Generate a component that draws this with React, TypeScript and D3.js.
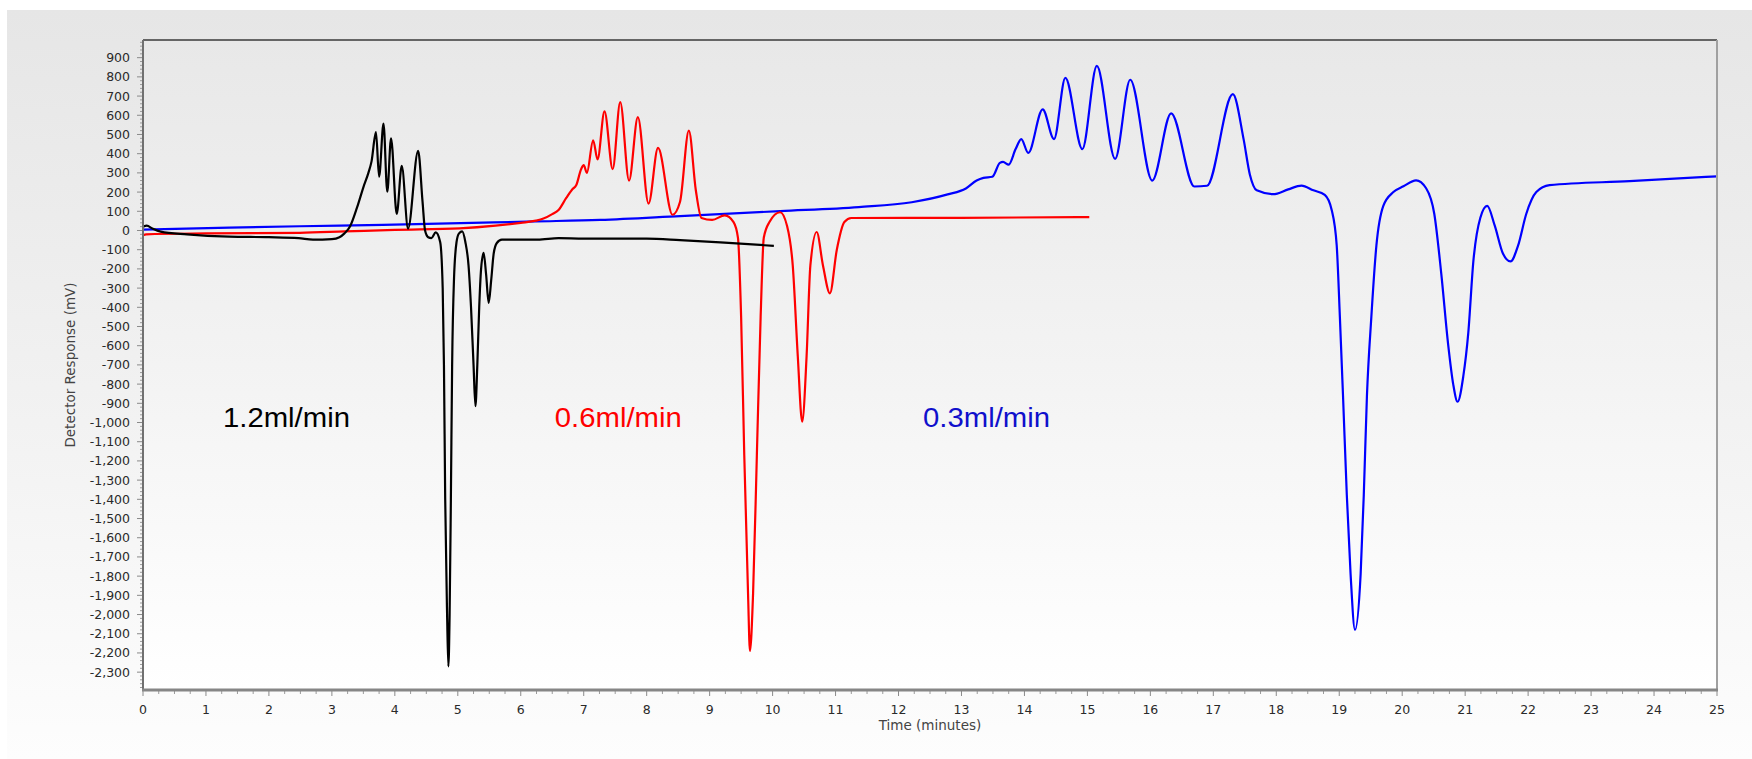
import React from "react";
import * as d3 from "d3";

// Chromatogram traces: detector response (mV) against time (minutes) at three flow rates.
const blackTime = [0, 0.06, 0.15, 0.28, 0.7, 1.37, 2.0, 2.47, 2.7, 3.0, 3.12, 3.2, 3.29, 3.4, 3.5, 3.58, 3.63, 3.7, 3.75, 3.82, 3.88, 3.94, 4.03, 4.11, 4.21, 4.37, 4.44, 4.48, 4.53, 4.58, 4.65, 4.72, 4.76, 4.78, 4.8, 4.83, 4.85, 4.87, 4.89, 4.91, 4.94, 4.98, 5.02, 5.07, 5.12, 5.17, 5.21, 5.25, 5.28, 5.31, 5.34, 5.37, 5.41, 5.45, 5.49, 5.53, 5.57, 5.62, 5.7, 6.27, 6.6, 7.0, 8.0, 8.53, 9.3, 10.02];
const blackResp = [20, 25, 10, -6, -20, -32, -35, -40, -48, -45, -35, -15, 22, 120, 225, 300, 360, 512, 280, 556, 202, 480, 86, 336, 10, 415, 150, 0, -35, -40, -10, -60, -300, -700, -1400, -2000, -2270, -2000, -1400, -700, -250, -60, -15, -5, -60, -180, -400, -700, -915, -700, -400, -200, -117, -230, -377, -260, -120, -65, -48, -48, -40, -42, -42, -50, -65, -80];

const redTime = [0, 0.05, 1.0, 2.49, 3.2, 4.0, 5.03, 5.6, 6.0, 6.24, 6.36, 6.5, 6.6, 6.72, 6.82, 6.88, 6.96, 7.0, 7.05, 7.15, 7.22, 7.33, 7.46, 7.58, 7.72, 7.86, 8.03, 8.18, 8.41, 8.53, 8.67, 8.78, 8.87, 9.04, 9.24, 9.38, 9.45, 9.5, 9.55, 9.61, 9.64, 9.69, 9.75, 9.81, 9.86, 9.95, 10.12, 10.23, 10.32, 10.4, 10.47, 10.54, 10.6, 10.7, 10.8, 10.91, 11.02, 11.14, 11.25, 13.0, 15.03];
const redResp = [-25, -20, -15, -12, -5, 3, 11, 25, 40, 51, 62, 85, 107, 168, 215, 235, 320, 340, 300, 470, 370, 620, 320, 668, 260, 590, 140, 430, 82, 150, 520, 211, 65, 55, 79, 44, -38, -450, -1170, -1891, -2190, -1891, -1170, -450, -38, 44, 95, 23, -182, -654, -996, -654, -182, -8, -182, -327, -100, 44, 65, 66, 70];

const blueTime = [0, 1.37, 2.49, 3.81, 6.24, 7.26, 8.53, 10.12, 11.37, 12.21, 12.78, 13.07, 13.24, 13.35, 13.49, 13.61, 13.66, 13.75, 13.86, 13.95, 14.06, 14.29, 14.47, 14.65, 14.92, 15.15, 15.44, 15.68, 16.03, 16.33, 16.7, 16.9, 17.31, 17.48, 17.58, 17.69, 17.95, 18.19, 18.4, 18.59, 18.77, 18.88, 18.96, 19.01, 19.06, 19.12, 19.18, 19.25, 19.34, 19.39, 19.44, 19.51, 19.59, 19.7, 19.86, 20.02, 20.22, 20.38, 20.51, 20.62, 20.73, 20.81, 20.88, 20.97, 21.05, 21.13, 21.24, 21.35, 21.47, 21.6, 21.72, 21.84, 21.97, 22.13, 22.34, 23.61, 25.0];
const blueResp = [5, 15, 22, 29, 47, 55, 75, 101, 122, 147, 188, 219, 260, 274, 280, 352, 357, 343, 424, 476, 404, 631, 476, 795, 424, 857, 373, 785, 260, 610, 229, 233, 710, 477, 292, 209, 189, 214, 234, 209, 185, 107, -79, -450, -861, -1376, -1788, -2080, -1788, -1376, -861, -450, -79, 128, 200, 230, 261, 220, 86, -223, -594, -800, -892, -760, -532, -161, 65, 128, 25, -120, -161, -79, 86, 200, 236, 257, 282];

const seriesColors = ["#0000ff", "#ff0000", "#000000"];

// Flow-rate annotations, anchored in data units
const flowLabels = ["1.2ml/min", "0.6ml/min", "0.3ml/min"];
const flowLabelTime = [1.27, 6.54, 12.39];
const flowLabelResp = [-1025, -1025, -1025];
const flowLabelColors = ["#000000", "#ff0000", "#1010cc"];

const yTickValues = d3.range(-2300, 901, 100);
const xTickValues = d3.range(0, 26, 1);

const W = 1752;
const H = 759;
const plot = { left: 143, top: 40, right: 1717, bottom: 690 };

const fmt = d3.formatLocale({
  decimal: ".",
  thousands: ",",
  grouping: [3],
  currency: ["", ""],
  minus: "-",
}).format(",");

const tickFont = "'DejaVu Sans', Verdana, sans-serif";

export default function App() {
  const x = d3.scaleLinear().domain([0, 25]).range([plot.left, plot.right]);
  const y = d3.scaleLinear().domain([-2393, 992]).range([plot.bottom, plot.top]);

  const line = d3
    .line<[number, number]>()
    .x((d) => x(d[0]))
    .y((d) => y(d[1]))
    .curve(d3.curveMonotoneX);

  const series = [
    d3.zip(blueTime, blueResp) as [number, number][],
    d3.zip(redTime, redResp) as [number, number][],
    d3.zip(blackTime, blackResp) as [number, number][],
  ];

  const yMinor = d3.range(-2380, 981, 20).filter((v) => v % 100 !== 0);
  const xMinor = d3.range(0, 101).filter((i) => i % 4 !== 0).map((i) => i / 4);

  return (
    <svg
      width={W}
      height={H}
      style={{ position: "absolute", left: 0, top: 0, display: "block" }}
    >
      <defs>
        <linearGradient id="panelBg" x1="0" y1="0" x2="0" y2="1">
          <stop offset="0" stopColor="#e6e6e6" />
          <stop offset="0.55" stopColor="#f2f2f2" />
          <stop offset="1" stopColor="#fdfdfd" />
        </linearGradient>
        <linearGradient id="plotBg" x1="0" y1="0" x2="0" y2="1">
          <stop offset="0" stopColor="#e8e8e8" />
          <stop offset="0.5" stopColor="#f3f3f3" />
          <stop offset="1" stopColor="#ffffff" />
        </linearGradient>
        <clipPath id="plotClip">
          <rect
            x={plot.left}
            y={plot.top}
            width={plot.right - plot.left}
            height={plot.bottom - plot.top}
          />
        </clipPath>
      </defs>

      <rect x={0} y={0} width={W} height={H} fill="#ffffff" />
      <rect x={7} y={10} width={W - 7} height={H - 10} fill="url(#panelBg)" />
      <rect
        x={plot.left}
        y={plot.top}
        width={plot.right - plot.left}
        height={plot.bottom - plot.top}
        fill="url(#plotBg)"
      />

      {/* traces */}
      <g clipPath="url(#plotClip)" fill="none" strokeWidth={2.2} strokeLinejoin="round">
        {series.map((pts, i) => (
          <path key={i} d={line(pts) || ""} stroke={seriesColors[i]} />
        ))}
      </g>

      {/* frame */}
      <line x1={plot.left} x2={plot.right} y1={plot.top} y2={plot.top} stroke="#3a3a3a" strokeWidth={1.6} />
      <line x1={plot.right} x2={plot.right} y1={plot.top} y2={plot.bottom} stroke="#a0a0a0" strokeWidth={2} />

      {/* y axis */}
      <g>
        {yMinor.map((v) => (
          <line key={"ym" + v} x1={plot.left - 3} x2={plot.left} y1={y(v)} y2={y(v)} stroke="#9a9a9a" strokeWidth={1} />
        ))}
        {yTickValues.map((v) => (
          <g key={"y" + v}>
            <line x1={plot.left - 6} x2={plot.left} y1={y(v)} y2={y(v)} stroke="#8a8a8a" strokeWidth={1} />
            <text
              x={plot.left - 13}
              y={y(v)}
              dy="0.36em"
              textAnchor="end"
              fontFamily={tickFont}
              fontSize={12.5}
              fill="#2a2a2a"
            >
              {fmt(v)}
            </text>
          </g>
        ))}
        <line x1={plot.left} x2={plot.left} y1={plot.top} y2={plot.bottom + 1} stroke="#707070" strokeWidth={2} />
        <text
          transform={`translate(${70},${(plot.top + plot.bottom) / 2}) rotate(-90)`}
          textAnchor="middle"
          dy="0.35em"
          fontFamily={tickFont}
          fontSize={13.5}
          fill="#444"
        >
          Detector Response (mV)
        </text>
      </g>

      {/* x axis */}
      <g>
        {xMinor.map((t) => (
          <line key={"xm" + t} x1={x(t)} x2={x(t)} y1={plot.bottom} y2={plot.bottom + 4} stroke="#9a9a9a" strokeWidth={1} />
        ))}
        {xTickValues.map((t) => (
          <g key={"x" + t}>
            <line x1={x(t)} x2={x(t)} y1={plot.bottom} y2={plot.bottom + 6} stroke="#8a8a8a" strokeWidth={1} />
            <text
              x={x(t)}
              y={714}
              textAnchor="middle"
              fontFamily={tickFont}
              fontSize={12.5}
              fill="#2a2a2a"
            >
              {t}
            </text>
          </g>
        ))}
        <line x1={plot.left - 1} x2={plot.right + 1} y1={plot.bottom} y2={plot.bottom} stroke="#868686" strokeWidth={3} />
        <text
          x={(plot.left + plot.right) / 2}
          y={730}
          textAnchor="middle"
          fontFamily={tickFont}
          fontSize={13.5}
          fill="#444"
        >
          Time (minutes)
        </text>
      </g>

      {/* flow-rate labels */}
      {flowLabels.map((s, i) => (
        <text
          key={s}
          x={x(flowLabelTime[i])}
          y={y(flowLabelResp[i])}
          fontFamily="'Liberation Sans', Arial, sans-serif"
          fontSize={28}
          textLength={127}
          lengthAdjust="spacingAndGlyphs"
          fill={flowLabelColors[i]}
        >
          {s}
        </text>
      ))}
    </svg>
  );
}
